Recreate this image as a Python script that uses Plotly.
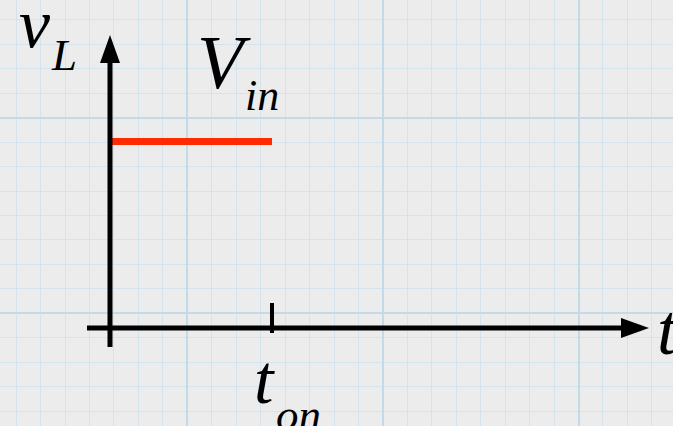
import plotly.graph_objects as go

# inductor voltage during the switch on-time
T_ON = 1.0
V_IN = 1.0
t_vals = [0.0, T_ON]
v_vals = [V_IN, V_IN]

W, H = 673, 426
FONT = "Liberation Serif"

# pixel geometry of the sketch
X0_PX, Y0_PX = 110, 328          # origin
PX_PER_T, PX_PER_V = 162, 186.5  # scale of each axis
GRID_PX = 24.45                  # one small square of the graph paper

x_range = [-X0_PX / PX_PER_T, (W - X0_PX) / PX_PER_T]
y_range = [-(H - Y0_PX) / PX_PER_V, Y0_PX / PX_PER_V]


def px_x(px):
    return (px - X0_PX) / PX_PER_T


def px_y(py):
    return (Y0_PX - py) / PX_PER_V


def axis_cfg(rng, tick0, step):
    return dict(
        range=rng,
        showticklabels=False,
        ticks="",
        zeroline=False,
        showline=False,
        fixedrange=True,
        showgrid=True,
        tick0=tick0,
        dtick=step * 8,
        gridcolor="#c3dbe9",
        gridwidth=2,
        minor=dict(
            tick0=tick0,
            dtick=step,
            showgrid=True,
            gridcolor="#d3e4ee",
            gridwidth=1,
        ),
    )


fig = go.Figure()

fig.add_trace(
    go.Scatter(
        x=t_vals,
        y=v_vals,
        mode="lines",
        line=dict(color="#ff2a00", width=7),
        hoverinfo="skip",
        showlegend=False,
    )
)

x_tip, y_tip = px_x(649), px_y(35)
axis_line = dict(color="#000000", width=5)
shapes = [
    # time axis
    dict(type="line", xref="x", yref="y", x0=px_x(87), x1=x_tip - 20 / PX_PER_T,
         y0=0, y1=0, line=axis_line),
    dict(type="path", xref="x", yref="y", xsizemode="pixel", ysizemode="pixel",
         xanchor=x_tip, yanchor=0, path="M0,0 L-28,10 L-28,-10 Z",
         fillcolor="#000000", line=dict(width=0)),
    # voltage axis
    dict(type="line", xref="x", yref="y", x0=0, x1=0, y0=px_y(347),
         y1=y_tip - 20 / PX_PER_V, line=axis_line),
    dict(type="path", xref="x", yref="y", xsizemode="pixel", ysizemode="pixel",
         xanchor=0, yanchor=y_tip, path="M0,0 L-10,-28 L10,-28 Z",
         fillcolor="#000000", line=dict(width=0)),
    # t_on tick
    dict(type="line", xref="x", yref="y", ysizemode="pixel", yanchor=0,
         x0=T_ON, x1=T_ON, y0=-5, y1=25, line=dict(color="#000000", width=4)),
]


def label(text, cx, cy, size):
    return dict(
        x=cx / W, y=1 - cy / H, xref="paper", yref="paper",
        text=f"<i>{text}</i>", showarrow=False,
        xanchor="center", yanchor="middle",
        font=dict(family=FONT, size=size, color="#000000"),
    )


annotations = [
    label("v", 35, 23, 70),
    label("L", 64, 55, 45),
    label("V", 224, 62, 76),
    label("in", 262, 95, 44),
    label("t", 264, 379, 70),
    label("on", 298, 415, 45),
    label("t", 668, 330, 72),
]

fig.update_layout(
    width=W,
    height=H,
    margin=dict(l=0, r=0, t=0, b=0),
    plot_bgcolor="#ececec",
    paper_bgcolor="#ececec",
    xaxis=axis_cfg(x_range, px_x(187.3), GRID_PX / PX_PER_T),
    yaxis=axis_cfg(y_range, px_y(313.3), GRID_PX / PX_PER_V),
    shapes=shapes,
    annotations=annotations,
)

fig.write_html(
    "out.html",
    config=dict(displayModeBar=False),
    post_script="document.body.style.margin='0';document.body.style.overflow='hidden';",
)
